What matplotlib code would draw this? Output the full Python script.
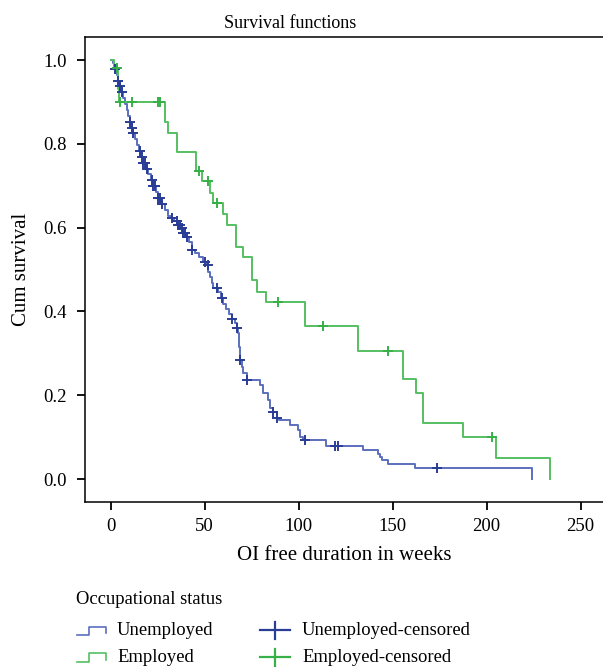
import numpy as np
import matplotlib
matplotlib.use("Agg")
import matplotlib.pyplot as plt
from matplotlib.lines import Line2D

plt.rcParams['font.family'] = ['Liberation Serif', 'DejaVu Serif']

# ---------------- data ----------------
unemp_times = [0, 1.0, 1.8, 2.5, 3.2, 4.0, 4.8, 5.5, 6.5, 7.5, 8.5, 9.3, 10.0, 11.0,
               12.0, 13.0, 14.2, 15.0, 16.0, 17.3, 18.5, 20.0, 21.2, 22.7, 24.0,
               25.3, 27.0, 28.9, 30.5, 32.0, 33.5, 35.5, 37.0, 38.6, 40.0, 41.5,
               43.1, 45.0, 47.0, 49.3, 51.0, 52.0, 52.8, 54.0, 54.6, 57.2, 58.5,
               59.9, 61.5, 63.0, 64.4, 66.0, 67.0, 67.9, 68.5, 68.8, 70.0, 70.5,
               72.3, 79.4, 81.2, 83.8, 84.7, 86.5, 88.3, 89.5, 95.4, 99.8, 100.7,
               102.5, 114.5, 134.4, 142.4, 143.2, 144.1, 147.7, 161.9, 223.9]
unemp_surv = [1.0, 0.993, 0.986, 0.979, 0.965, 0.951, 0.937, 0.923, 0.909, 0.895,
              0.881, 0.867, 0.853, 0.839, 0.825, 0.811, 0.797, 0.783, 0.769, 0.755,
              0.741, 0.727, 0.713, 0.699, 0.685, 0.671, 0.657, 0.643, 0.629, 0.622,
              0.615, 0.607, 0.599, 0.587, 0.577, 0.565, 0.547, 0.539, 0.531, 0.519,
              0.511, 0.495, 0.483, 0.467, 0.455, 0.447, 0.433, 0.419, 0.405, 0.395,
              0.383, 0.372, 0.360, 0.348, 0.316, 0.284, 0.268, 0.252, 0.236, 0.224,
              0.205, 0.189, 0.169, 0.161, 0.145, 0.141, 0.129, 0.117, 0.101, 0.093,
              0.079, 0.069, 0.061, 0.053, 0.045, 0.035, 0.027, 0.0]
unemp_censored = [2.5, 4.0, 4.9, 5.8, 10.3, 11.2, 12.0, 15.6, 16.5, 17.3, 18.2, 19.1,
                  21.8, 22.7, 23.6, 25.3, 26.2, 27.1, 32.4, 35.1, 36.0, 36.9, 37.8,
                  38.6, 39.5, 40.4, 43.1, 50.2, 51.9, 56.4, 59.0, 64.4, 67.0, 68.8,
                  72.3, 86.5, 88.3, 103.5, 119.3, 121.1, 173.4]

emp_times = [0, 1.5, 4.0, 4.6, 28.9, 30.7, 35.1, 45.1, 48.7, 52.8, 54.6, 59.9, 62.0,
             66.6, 70.2, 75.3, 78.0, 82.4, 103.4, 131.7, 155.3, 162.4, 165.9, 187.6,
             204.8, 233.7]
emp_surv = [1.0, 0.98, 0.93, 0.90, 0.851, 0.827, 0.781, 0.735, 0.712, 0.682, 0.658,
            0.632, 0.606, 0.554, 0.531, 0.475, 0.447, 0.422, 0.366, 0.305, 0.238,
            0.205, 0.135, 0.101, 0.051, 0.0]
emp_censored = [3.2, 5.0, 11.2, 25.3, 26.2, 47.0, 51.9, 56.4, 89.2, 113.1, 147.7, 202.6]

x_ticks = [0, 50, 100, 150, 200, 250]
y_ticks = [0.0, 0.2, 0.4, 0.6, 0.8, 1.0]

title = "Survival functions"
x_label = "OI free duration in weeks"
y_label = "Cum survival"
legend_title = "Occupational status"
series_names = ["Unemployed", "Employed"]
censor_names = ["Unemployed-censored", "Employed-censored"]

# ---------------- style ----------------
blue_line = "#5a6fbd"
blue_mark = "#2a3d96"
green_line = "#55bf62"
green_mark = "#37b048"
FS = 13
LFS = 13.4

W, H = 603, 667
fig = plt.figure(figsize=(W / 100, H / 100), dpi=100)
ax = fig.add_axes([85 / W, 1 - 501.7 / H, (W - 85) / W, (501.7 - 37) / H])


def surv_at(times, surv, t):
    idx = np.searchsorted(np.asarray(times), t, side="right") - 1
    return np.asarray(surv)[idx]


for times, surv, cens, lc, mc in [
    (unemp_times, unemp_surv, unemp_censored, blue_line, blue_mark),
    (emp_times, emp_surv, emp_censored, green_line, green_mark),
]:
    ax.step(times, surv, where="post", color=lc, lw=1.4, zorder=2)
    cy = surv_at(times, surv, np.asarray(cens))
    ax.plot(cens, cy, ls="none", marker="+", ms=7.5, mew=1.4, color=mc, zorder=3)

ax.set_xlim(-13.7, 261.9)
ax.set_ylim(-0.054, 1.055)
ax.set_xticks(x_ticks)
ax.set_yticks(y_ticks)
ax.set_xticklabels([str(v) for v in x_ticks])
ax.set_yticklabels([f"{v:.1f}" for v in y_ticks])
ax.tick_params(direction="out", length=6, width=1.3, labelsize=13.5, color="black")
ax.tick_params(axis="y", pad=7)
ax.tick_params(axis="x", pad=6)
for s in ["left", "bottom", "top"]:
    ax.spines[s].set_linewidth(1.1)
ax.spines["right"].set_visible(False)

ax.set_xlabel(x_label, fontsize=15, labelpad=8)
ax.set_ylabel(y_label, fontsize=15, labelpad=9)

fig.text(290 / W, 1 - 28.3 / H, title, fontsize=FS, ha="center", va="baseline")

# ---------------- legend (drawn in figure pixel positions) ----------------
def P(x, y):
    return x / W, 1 - y / H


def fig_line(xs, ys, color, lw):
    fx = [x / W for x in xs]
    fy = [1 - y / H for y in ys]
    fig.add_artist(Line2D(fx, fy, color=color, lw=lw, transform=fig.transFigure))


fig.text(*P(76, 604), legend_title, fontsize=LFS, ha="left", va="baseline")

rows = [(635, 626.7, blue_line, blue_mark), (662, 653.3, green_line, green_mark)]
for (base, top, lc, mc), name, cname in zip(rows, series_names, censor_names):
    fig_line([76.7, 89.3, 89.3, 106, 106], [base, base, top, top, base - 2], lc, 1.2)
    fig.text(*P(117, base), name, fontsize=LFS, ha="left", va="baseline")
    mid = (base + top) / 2 - 0.5
    fig_line([260, 290], [mid, mid], mc, 1.6)
    fig_line([275, 275], [mid - 8.5, mid + 8.5], mc, 1.6)
    fig.text(*P(302, base), cname, fontsize=LFS, ha="left", va="baseline")

fig.savefig("out.png", dpi=100)
